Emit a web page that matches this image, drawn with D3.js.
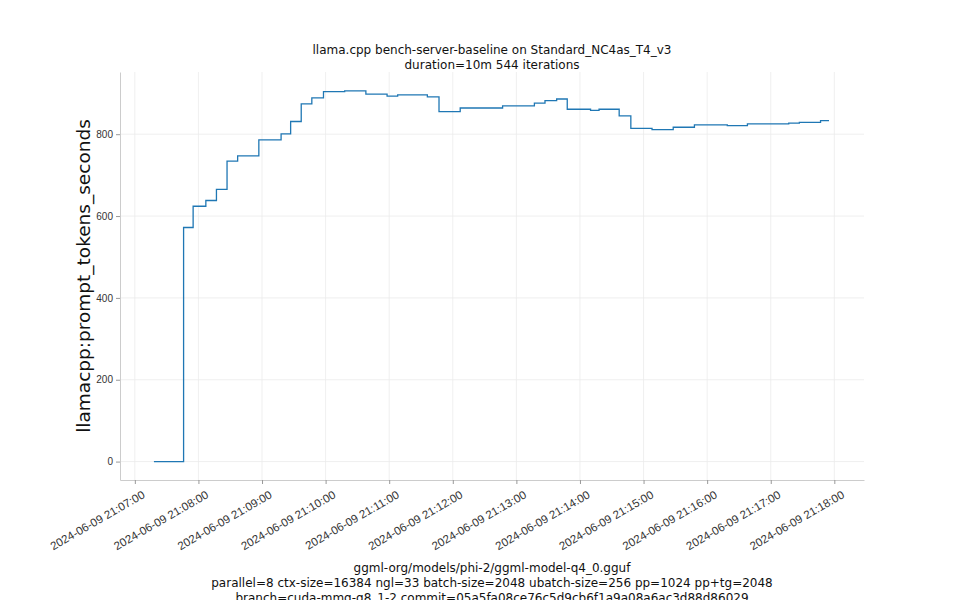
<!DOCTYPE html>
<html><head><meta charset="utf-8">
<script src="https://cdn.jsdelivr.net/npm/d3@7"></script>
<style>body{margin:0;background:#fff;font-family:"DejaVu Sans",sans-serif;}</style>
</head><body>
<svg id="chart" width="960" height="600"></svg>
<script>
// seconds after 2024-06-09 21:07:00
const stepSeconds = [18, 46, 55, 67, 77, 87, 97, 117, 138, 147, 157, 167, 178, 198, 218, 238, 248, 276, 287, 307, 347, 377, 387, 398, 408, 430, 438, 457, 468, 488, 508, 528, 559, 578, 617, 627, 647, 655];
const stepValues = [0, 572, 624, 638, 665, 734, 747, 786, 801, 831, 874, 889, 904, 906, 898, 893, 896, 891, 855, 864, 869, 876, 882, 886, 861, 858, 861, 845, 814, 811, 817, 823, 821, 825, 827, 829, 833, 833];
const yTicks = [0, 200, 400, 600, 800];
const titleLines = ['llama.cpp bench-server-baseline on Standard_NC4as_T4_v3', 'duration=10m 544 iterations'];
const footLines = ['ggml-org/models/phi-2/ggml-model-q4_0.gguf',
  'parallel=8 ctx-size=16384 ngl=33 batch-size=2048 ubatch-size=256 pp=1024 pp+tg=2048',
  'branch=cuda-mmq-q8_1-2 commit=05a5fa08ce76c5d9cb6f1a9a08a6ac3d88d86029'];

const t0 = new Date(2024, 5, 9, 21, 7, 0);
const data = stepSeconds.map((s, i) => ({ t: new Date(+t0 + s * 1000), v: stepValues[i] }));

const svg = d3.select('#chart');
const plotL = 120, plotR = 864, plotT = 72, plotB = 480;

const x = d3.scaleTime()
  .domain([new Date(+t0 - 14 * 1000), new Date(+t0 + 688 * 1000)])
  .range([plotL, plotR]);
const y = d3.scaleLinear().domain([-45, 952]).range([plotB, plotT]);

const grid = svg.append('g').attr('stroke', '#ebebeb').attr('stroke-width', 0.8);
const xTicks = d3.range(12).map(m => new Date(+t0 + m * 60000));
grid.selectAll('.gx').data(xTicks).join('line')
  .attr('x1', d => x(d)).attr('x2', d => x(d)).attr('y1', plotT).attr('y2', plotB);
grid.selectAll('.gy').data(yTicks).join('line')
  .attr('x1', plotL).attr('x2', plotR).attr('y1', d => y(d)).attr('y2', d => y(d));

const fmt = d3.timeFormat('%Y-%m-%d %H:%M:%S');
const xAxis = svg.append('g').attr('transform', `translate(0,${plotB})`)
  .call(d3.axisBottom(x).tickValues(xTicks).tickFormat(fmt).tickSize(4).tickSizeOuter(0));
xAxis.selectAll('text')
  .attr('font-size', 11.5).attr('fill', '#333').attr('text-anchor', 'end')
  .attr('transform', 'translate(4,6) rotate(-30)').attr('dy', '0.5em');
const yAxis = svg.append('g').attr('transform', `translate(${plotL},0)`)
  .call(d3.axisLeft(y).tickValues(yTicks).tickSize(4).tickSizeOuter(0));
yAxis.selectAll('text').attr('font-size', 10).attr('fill', '#333');
svg.selectAll('.domain').attr('stroke', '#ccc');
svg.selectAll('.tick line').attr('stroke', '#999');

svg.append('path').datum(data)
  .attr('fill', 'none').attr('stroke', '#1f77b4').attr('stroke-width', 1.3)
  .attr('d', d3.line().x(d => x(d.t)).y(d => y(d.v)).curve(d3.curveStepAfter));

svg.append('text').attr('transform', `translate(90,${(plotT + plotB) / 2}) rotate(-90)`)
  .attr('text-anchor', 'middle').attr('font-size', 18.5).attr('fill', '#111')
  .text('llamacpp:prompt_tokens_seconds');

svg.selectAll('.title').data(titleLines).join('text')
  .attr('x', 492).attr('y', (d, i) => 54 + i * 15)
  .attr('text-anchor', 'middle').attr('font-size', 12).attr('fill', '#111').text(d => d);
svg.selectAll('.foot').data(footLines).join('text')
  .attr('x', 492).attr('y', (d, i) => 572 + i * 15)
  .attr('text-anchor', 'middle').attr('font-size', 12).attr('fill', '#111').text(d => d);
</script>
</body></html>
